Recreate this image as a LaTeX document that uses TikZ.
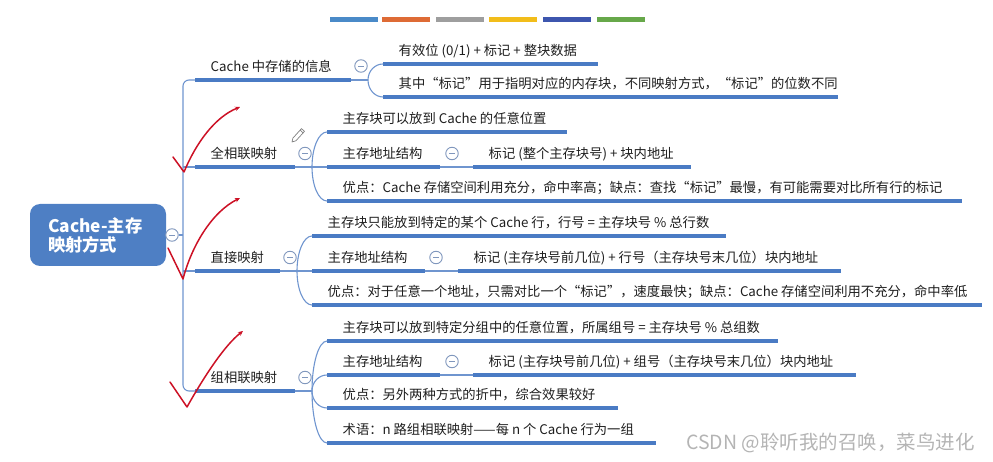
\documentclass[tikz,border=0pt]{standalone}
\usepackage{fontspec}
\setmainfont{Noto Sans CJK SC}
\usetikzlibrary{calc,arrows.meta}
\definecolor{txt}{HTML}{1E1E1E}
\definecolor{rootblue}{HTML}{4E7FC4}
\definecolor{uline}{HTML}{4A7BC4}
\definecolor{conn}{HTML}{6F95CF}
\definecolor{circ}{HTML}{8097BD}
\definecolor{redmark}{HTML}{CC1125}
\definecolor{wmgray}{HTML}{B4B4B4}
\definecolor{barA}{HTML}{4A8AC8}
\definecolor{barB}{HTML}{DE6B35}
\definecolor{barC}{HTML}{9E9E9E}
\definecolor{barD}{HTML}{F2BD1A}
\definecolor{barE}{HTML}{3D56AE}
\definecolor{barF}{HTML}{67A84A}
\tikzset{
  leaf/.style={anchor=south west, inner xsep=15.5pt, inner ysep=6.4pt,
    text height=10pt, text depth=2pt, font=\fontsize{13.3}{16}\selectfont, text=txt},
  root/.style={fill=rootblue, rounded corners=10pt, minimum width=136pt,
    minimum height=62pt, text width=100pt, align=left, text=white, inner sep=0pt,
    font=\fontsize{17.3}{19}\selectfont\bfseries},
  collapse/.style={circle, draw=circ, line width=0.9pt, fill=white,
    minimum size=12.5pt, inner sep=0pt,
    path picture={\draw[circ, line width=0.9pt]
      ([xshift=-3pt]path picture bounding box.center) --
      ([xshift=3pt]path picture bounding box.center);}},
  ul/.style={uline, line width=3.2pt},
  cn/.style={conn, line width=1.1pt},
  tick/.style={redmark, line width=1.5pt, line cap=round, line join=round,
    -{Stealth[length=5pt,width=4.5pt]}},
  wm/.style={font=\fontsize{19.5}{22}\selectfont, text=wmgray, inner sep=0pt}
}
\newcommand\bcurve[2]{\draw[cn] (#1) .. controls ($(#1)!0.552!(#1 |- #2.south west)$) and ($(#2.south west)!0.552!(#1 |- #2.south west)$) .. (#2.south west);}
\newcommand\uline[1]{\draw[ul] (#1.south west) -- (#1.south east);}
% leaf node: name, x, y (line start), text box width, text
\newcommand\leafnode[5]{\node[leaf] (#1) at (#2,#3) {\makebox[#4pt][l]{#5}};}
\begin{document}
\begin{tikzpicture}[x=1pt,y=-1pt]
\useasboundingbox (0,0) rectangle (993,462);
% colour bars
\foreach \x/\c in {330/barA,382/barB,436/barC,489/barD,543/barE,597/barF}
  \fill[\c] (\x,17.5) rectangle ++(47.5,5);
% root
\node[root] (root) at (98,235) {Cache-主存\\映射方式};
\node[collapse] (rc) at (172,235) {};
\coordinate (trunk) at (183,235);
% main branches
\leafnode{b0}{195}{80}{125}{Cache 中存储的信息}
\leafnode{b1}{195}{167}{69}{全相联映射}
\leafnode{b2}{195}{271}{54}{直接映射}
\leafnode{b3}{195}{391}{69}{组相联映射}
\draw[cn] (rc.east) -- (trunk);
\draw[cn, rounded corners=6pt] (b0.south west) -| (trunk) |- (b3.south west);
\draw[cn] (b1.south west -| trunk) -- (b1.south west);
\draw[cn] (b2.south west -| trunk) -- (b2.south west);
\foreach \n in {b0,b1,b2,b3} {\uline{\n}}
\node[collapse] (b0c) at (361,66) {};
\node[collapse] (b1c) at (305,153.5) {};
\node[collapse] (b2c) at (290,257.5) {};
\node[collapse] (b3c) at (305,377.5) {};
% junctions
\coordinate (j0) at (368,80);
\coordinate (j1) at (312,167);
\coordinate (j2) at (297,271);
\coordinate (j3) at (312,391);
\draw[cn] (b0.south east) -- (j0);
\draw[cn] (b1.south east) -- (j1);
\draw[cn] (b2.south east) -- (j2);
\draw[cn] (b3.south east) -- (j3);
% leaves of b0
\leafnode{c01}{383}{64}{184}{有效位 (0/1) + 标记 + 整块数据}
\leafnode{c02}{383}{97}{424}{其中“标记”用于指明对应的内存块，不同映射方式，“标记”的位数不同}
% leaves of b1
\leafnode{c11}{327}{132}{209}{主存块可以放到 Cache 的任意位置}
\leafnode{c12}{327}{167}{82}{主存地址结构}
\leafnode{c12b}{473}{167}{187}{标记 (整个主存块号) + 块内地址}
\leafnode{c13}{327}{201}{604}{优点：Cache 存储空间利用充分，命中率高；缺点：查找“标记”最慢，有可能需要对比所有行的标记}
% leaves of b2
\leafnode{c21}{312}{236}{383}{主存块只能放到特定的某个 Cache 行，行号 = 主存块号 \% 总行数}
\leafnode{c22}{312}{271}{82}{主存地址结构}
\leafnode{c22b}{458}{271}{352}{标记 (主存块号前几位) + 行号（主存块号末几位）块内地址}
\leafnode{c23}{312}{305}{639}{优点：对于任意一个地址，只需对比一个“标记”，速度最快；缺点：Cache 存储空间利用不充分，命中率低}
% leaves of b3
\leafnode{c31}{327}{341}{420}{主存块可以放到特定分组中的任意位置，所属组号 = 主存块号 \% 总组数}
\leafnode{c32}{327}{375}{82}{主存地址结构}
\leafnode{c32b}{473}{375}{352}{标记 (主存块号前几位) + 组号（主存块号末几位）块内地址}
\leafnode{c33}{327}{408}{260}{优点：另外两种方式的折中，综合效果较好}
\leafnode{c34}{327}{443}{298}{术语：n 路组相联映射——每 n 个 Cache 行为一组}
\foreach \n in {c01,c02,c11,c12,c12b,c13,c21,c22,c22b,c23,c31,c32,c32b,c33,c34} {\uline{\n}}
% curves
\bcurve{j0}{c01}\bcurve{j0}{c02}
\bcurve{j1}{c11}\bcurve{j1}{c12}\bcurve{j1}{c13}
\bcurve{j2}{c21}\bcurve{j2}{c22}\bcurve{j2}{c23}
\bcurve{j3}{c31}\bcurve{j3}{c32}\bcurve{j3}{c33}\bcurve{j3}{c34}
\draw[cn] (c12.south east) -- (c12b.south west);
\draw[cn] (c22.south east) -- (c22b.south west);
\draw[cn] (c32.south east) -- (c32b.south west);
\node[collapse] (c12c) at (452,153.5) {};
\node[collapse] (c22c) at (436,257.5) {};
\node[collapse] (c32c) at (452,361.5) {};
% pencil icon
\draw[gray, line width=0.7pt, line join=round] (292,142) -- (295.9,140.8) -- (304.5,131.4) -- (301.5,128.6) -- (292.9,138.1) -- cycle;
\draw[gray, line width=0.7pt] (303.1,132.9) -- (300.1,130.1);
% red check marks
\draw[tick] (173,157) -- (184,172) .. controls (196,143) and (215,117) .. (240,107);
\draw[tick] (168,248) -- (183,279) .. controls (192,245) and (212,212) .. (240,198);
\draw[tick] (170,382) -- (187,407) .. controls (205,375) and (225,345) .. (243,331);
% watermark
\node[wm, anchor=west] (wm) at (686,443) {CSDN @聆听我的召唤，菜鸟进化};
\end{tikzpicture}
\end{document}
